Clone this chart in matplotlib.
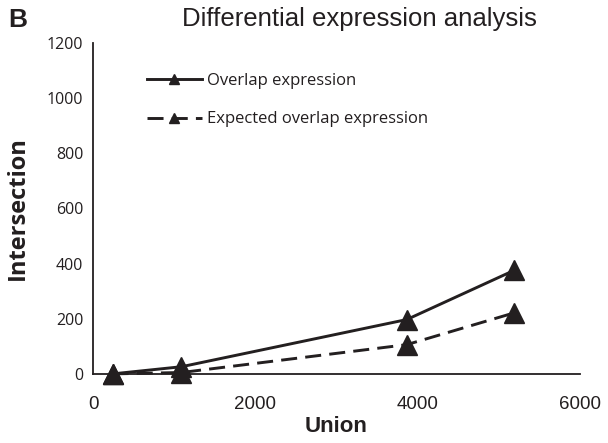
import matplotlib.pyplot as plt
import matplotlib as mpl

mpl.rcParams["font.family"] = ["Liberation Sans", "DejaVu Sans"]

union = [240, 1090, 3865, 5185]
overlap = [0, 26, 197, 375]
expected = [0, 5, 106, 221]

fig = plt.figure(figsize=(6.08, 4.43), dpi=100)
ax = fig.add_axes([0.153, 0.156, 0.801, 0.747])

ax.plot(union, overlap, color="#231f20", lw=2.1, marker="^", ms=15,
        label="Overlap expression", clip_on=False, zorder=3)
ax.plot(union, expected, color="#231f20", lw=2.1, ls=(0, (5.5, 2.8)), marker="^", ms=15,
        label="Expected overlap expression", clip_on=False, zorder=3)

ax.set_xlim(0, 6000)
ax.set_ylim(0, 1200)
ax.set_xticks([0, 2000, 4000, 6000])
ax.set_yticks(range(0, 1201, 200))
ax.tick_params(axis="x", length=0, labelsize=13.5, colors="#231f20", pad=16)
ax.tick_params(axis="y", length=0, labelsize=11.5, colors="#231f20", pad=7)
for lab in ax.get_yticklabels():
    lab.set_family("Open Sans")
for s in ["top", "right"]:
    ax.spines[s].set_visible(False)
for s in ["left", "bottom"]:
    ax.spines[s].set_linewidth(1.3)
    ax.spines[s].set_color("#231f20")

ax.set_xlabel("Union", fontsize=16, fontweight="bold", color="#231f20", labelpad=2)
ax.set_ylabel("Intersection", fontsize=17, fontweight="bold", color="#231f20",
              labelpad=12, family="Open Sans")

fig.text(0.592, 0.958, "Differential expression analysis", ha="center", va="center",
         fontsize=18.5, color="#231f20")
fig.text(0.014, 0.955, "B", ha="left", va="center", fontsize=19, fontweight="bold",
         color="#231f20")

leg = ax.legend(loc="upper left", bbox_to_anchor=(0.08, 0.955), frameon=False,
                markerscale=0.5, handlelength=3.3, handletextpad=0.3, labelspacing=1.35,
                prop={"family": "Open Sans", "size": 12})
for t in leg.get_texts():
    t.set_color("#231f20")

fig.savefig("out.png", dpi=100)
